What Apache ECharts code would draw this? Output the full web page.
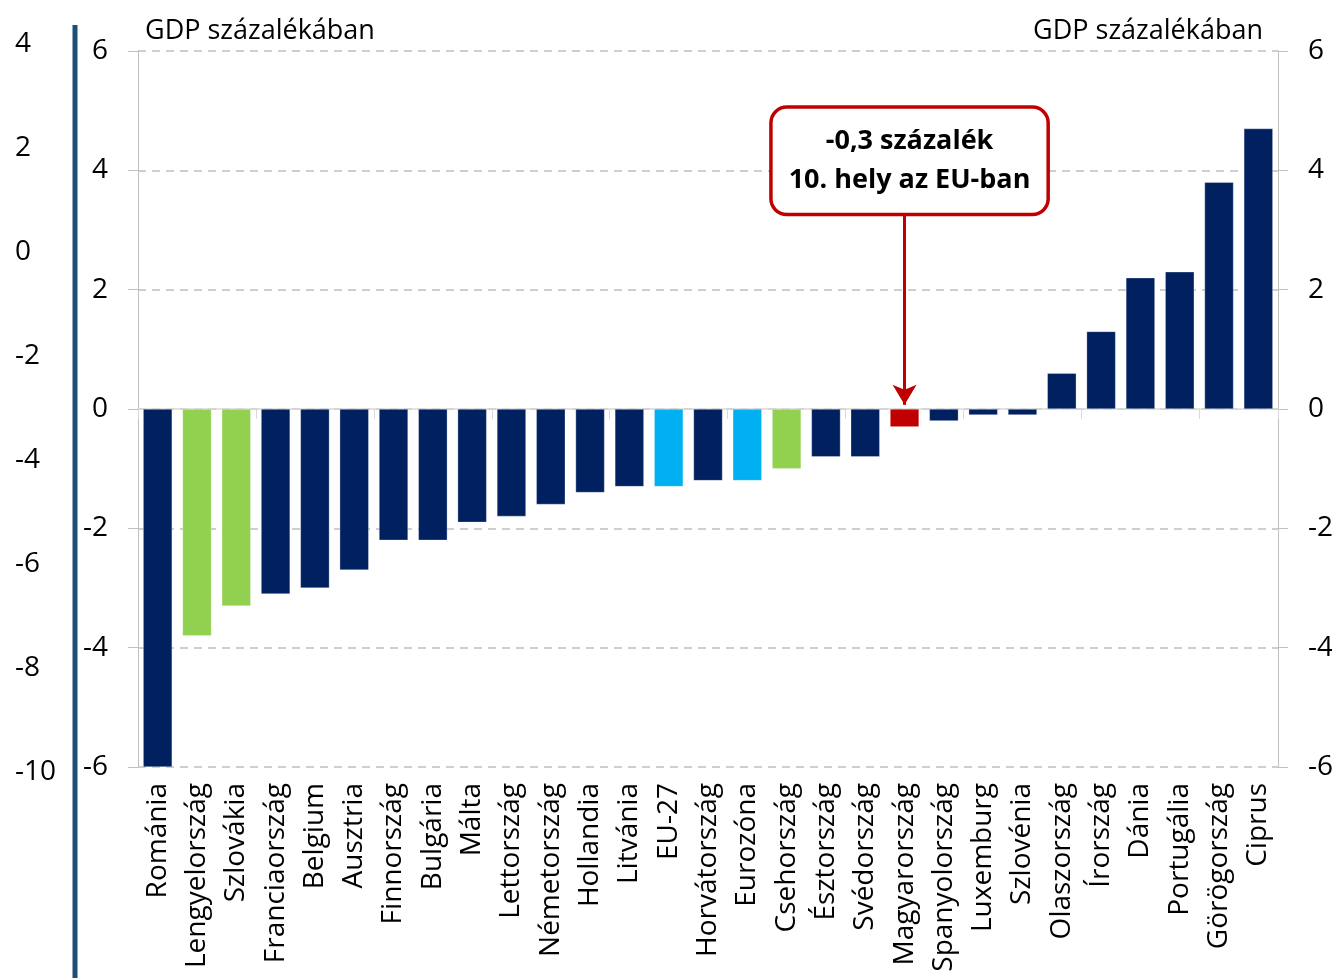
<!DOCTYPE html>
<html>
<head>
<meta charset="utf-8">
<script src="https://cdn.jsdelivr.net/npm/echarts@6/dist/echarts.min.js"></script>
<style>
  html, body { margin: 0; padding: 0; background: #fff; }
  #chart { width: 1332px; height: 978px; }
</style>
</head>
<body>
<div id="chart"></div>
<script>
// data
const countries = ['Románia', 'Lengyelország', 'Szlovákia', 'Franciaország', 'Belgium', 'Ausztria',
  'Finnország', 'Bulgária', 'Málta', 'Lettország', 'Németország', 'Hollandia', 'Litvánia', 'EU-27',
  'Horvátország', 'Eurozóna', 'Csehország', 'Észtország', 'Svédország', 'Magyarország',
  'Spanyolország', 'Luxemburg', 'Szlovénia', 'Olaszország', 'Írország', 'Dánia', 'Portugália',
  'Görögország', 'Ciprus'];
const balance = [-6.0, -3.8, -3.3, -3.1, -3.0, -2.7, -2.2, -2.2, -1.9, -1.8, -1.6, -1.4, -1.3, -1.3,
  -1.2, -1.2, -1.0, -0.8, -0.8, -0.3, -0.2, -0.1, -0.1, 0.6, 1.3, 2.2, 2.3, 3.8, 4.7];
const greenOnes = ['Lengyelország', 'Szlovákia', 'Csehország'];
const cyanOnes = ['EU-27', 'Eurozóna'];
const redOnes = ['Magyarország'];
const unitLabel = 'GDP százalékában';
const calloutText = '-0,3 százalék\n10. hely az EU-ban';
const calloutAt = ['Magyarország', 4.16];
const arrowFrom = ['Magyarország', 3.27];
const arrowTo = ['Magyarország', 0.07];

const FONT = 'Open Sans';
const chart = echarts.init(document.getElementById('chart'));

function barColor(name) {
  if (greenOnes.includes(name)) return '#92D050';
  if (cyanOnes.includes(name)) return '#00B0F0';
  if (redOnes.includes(name)) return '#C00000';
  return '#002060';
}

const option = {
  animation: false,
  textStyle: { fontFamily: FONT },
  title: [
    { text: unitLabel, left: 140, top: 13, textStyle: { fontFamily: FONT, fontSize: 27, fontWeight: 'normal', color: '#000' } },
    { text: unitLabel, right: 64, top: 13, textStyle: { fontFamily: FONT, fontSize: 27, fontWeight: 'normal', color: '#000' } }
  ],
  grid: [
    { left: 138, right: 54, top: 51, bottom: 211, containLabel: false, outerBoundsMode: 'none' },
    { left: 75, width: 10, top: 44, height: 728, containLabel: false, outerBoundsMode: 'none' }
  ],
  xAxis: [
    {
      type: 'category', data: countries, gridIndex: 0, position: 'bottom',
      axisLine: { show: false, onZero: false }, axisTick: { show: false },
      axisLabel: { rotate: 90, interval: 0, margin: 16, fontSize: 28, color: '#000', fontFamily: FONT }
    },
    {
      type: 'category', data: countries, gridIndex: 0, position: 'top',
      axisLine: { show: true, onZero: true, lineStyle: { color: '#D9D9D9', width: 1.5 } },
      axisTick: { show: true, inside: true, length: 10, lineStyle: { color: '#D9D9D9' } },
      axisLabel: { show: false }
    },
    { type: 'category', gridIndex: 1, show: false, data: [''] }
  ],
  yAxis: [
    {
      type: 'value', gridIndex: 0, min: -6, max: 6, interval: 2, position: 'left',
      axisLine: { show: true, lineStyle: { color: '#BFBFBF' } },
      axisTick: { show: true, length: 10, lineStyle: { color: '#BFBFBF' } },
      axisLabel: { fontSize: 28, color: '#000', margin: 30, fontFamily: FONT },
      splitLine: { show: true, lineStyle: { color: '#BFBFBF', type: [8, 6], width: 1.5 } }
    },
    {
      type: 'value', gridIndex: 0, min: -6, max: 6, interval: 2, position: 'right',
      axisLine: { show: true, lineStyle: { color: '#BFBFBF' } },
      axisTick: { show: true, length: 10, lineStyle: { color: '#BFBFBF' } },
      axisLabel: { fontSize: 28, color: '#000', margin: 30, fontFamily: FONT },
      splitLine: { show: false }
    },
    {
      type: 'value', gridIndex: 1, min: -10, max: 4, interval: 2, position: 'left',
      axisLine: { show: false }, axisTick: { show: false }, splitLine: { show: false },
      axisLabel: { fontSize: 28, color: '#000', margin: 60, align: 'left', fontFamily: FONT }
    }
  ],
  graphic: [
    { type: 'line', shape: { x1: 75, y1: 25, x2: 75, y2: 978 }, style: { stroke: '#1F4E79', lineWidth: 5 } }
  ],
  series: [
    {
      type: 'bar',
      xAxisIndex: 0, yAxisIndex: 0,
      data: balance,
      barWidth: 29,
      itemStyle: {
        color: p => barColor(p.name),
        borderColor: 'rgba(255,255,255,0.6)', borderWidth: 0.5
      },
      markPoint: {
        silent: true,
        symbol: 'circle', symbolSize: 1,
        itemStyle: { color: 'transparent' },
        label: {
          show: true, position: 'inside', offset: [5, 0],
          formatter: calloutText,
          fontFamily: FONT, fontSize: 27, fontWeight: 'bold', color: '#000',
          lineHeight: 39, align: 'center',
          backgroundColor: '#fff', borderColor: '#C00000', borderWidth: 3.5, borderRadius: 14,
          padding: [13, 16]
        },
        data: [{ coord: calloutAt }]
      },
      markLine: {
        silent: true,
        symbol: ['none', 'arrow'], symbolSize: [18, 20],
        lineStyle: { color: '#C00000', width: 3, type: 'solid' },
        label: { show: false },
        data: [[{ coord: arrowFrom }, { coord: arrowTo }]]
      }
    }
  ]
};

chart.setOption(option);
</script>
</body>
</html>
